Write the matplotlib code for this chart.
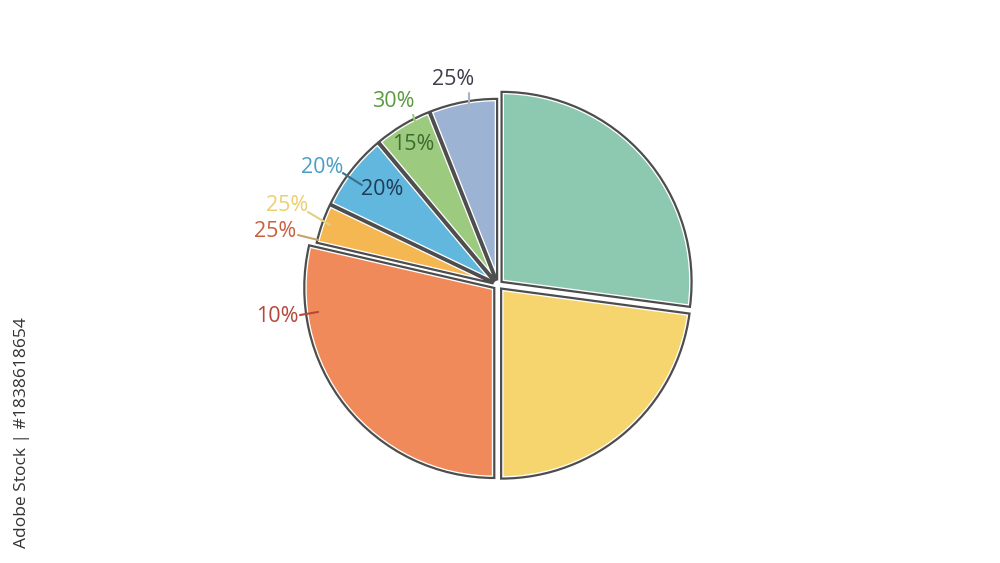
#!/usr/bin/env python3
import matplotlib
matplotlib.use("Agg")
import matplotlib.pyplot as plt
from matplotlib.patches import Wedge

# slices, clockwise from 12 o'clock
shares = [27.1, 22.9, 28.6, 3.5, 6.8, 5.1, 6.0]
slice_colors = ["#8dc8b0", "#f7d56e", "#f08a5a", "#f5b752", "#62b7de", "#9ccb80", "#9db3d3"]
# the four thin slices are drawn a little shorter than the big ones
slice_radius = [1.0, 1.0, 1.0, 0.955, 0.955, 0.955, 0.955]

# printed labels (text, colour, position, leader line or None)
label_texts = ["25%", "30%", "15%", "20%", "20%", "25%", "25%", "10%"]
label_colors = ["#3f3f4c", "#5b9a3f", "#3d6b2e", "#4a9fc2", "#1f3d55", "#ecd06c", "#c8603f", "#b5483a"]
label_xy = [(-0.237, 1.079), (-0.553, 0.968), (-0.447, 0.737), (-0.926, 0.621),
            (-0.611, 0.505), (-1.111, 0.421), (-1.174, 0.279), (-1.163, -0.168)]
leaders = [((-0.153, 1.011), (-0.153, 0.921)), ((-0.447, 0.895), (-0.426, 0.826)), None,
           ((-0.816, 0.589), (-0.716, 0.526)), None, ((-1.0, 0.384), (-0.884, 0.316)),
           ((-1.053, 0.263), (-0.947, 0.237)), ((-1.042, -0.158), (-0.947, -0.142))]
leader_colors = ["#a9b3c6", "#9ccb80", None, "#3d6f8c", None, "#e3cf8a", "#c9a46a", "#b5483a"]

edge = "#4d4d4d"
scale = 190  # pixels per unit radius

plt.rcParams["font.family"] = ["Open Sans", "DejaVu Sans"]

fig = plt.figure(figsize=(10, 5.63), dpi=100)
ax = fig.add_axes([0, 0, 1, 1])

wedges, _ = ax.pie(shares, colors=slice_colors, startangle=90, counterclock=False,
                   explode=[0.025] * len(shares), radius=1.0)

for w, r in zip(wedges, slice_radius):
    w.set_radius(r)
    # white inner rim, clipped to the wedge itself
    w.set_edgecolor("white")
    w.set_linewidth(3.5)
    w.set_clip_path(w)
    outline = Wedge(w.center, r, w.theta1, w.theta2, facecolor="none",
                    edgecolor=edge, linewidth=1.6, zorder=w.get_zorder() + 0.1)
    ax.add_patch(outline)

for text, color, xy, lead, lcol in zip(label_texts, label_colors, label_xy, leaders, leader_colors):
    if lead is not None:
        (x0, y0), (x1, y1) = lead
        ax.plot([x0, x1], [y0, y1], color=lcol, lw=1.5, solid_capstyle="round", zorder=5)
    ax.text(xy[0], xy[1], text, color=color, fontsize=15.5, ha="center", va="center", zorder=6)

fig.text(0.022, 0.232, "Adobe Stock | #1838618654", rotation=90, ha="center", va="center",
         fontsize=12.5, color="#333333")

ax.set_xlim(-498 / scale, 502 / scale)
ax.set_ylim(-278 / scale, 285 / scale)
ax.set_aspect("equal", adjustable="box")
ax.axis("off")

fig.savefig("out.png", dpi=100, facecolor="white")
